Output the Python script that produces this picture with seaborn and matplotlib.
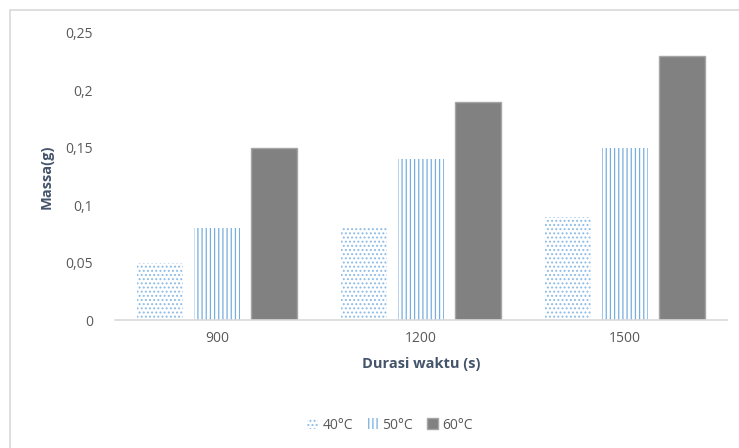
import matplotlib
matplotlib.use("Agg")
import matplotlib.pyplot as plt
import seaborn as sns
import pandas as pd
from matplotlib.patches import Patch, Rectangle

# data
durasi = ["900", "1200", "1500"]
suhu = ["40°C", "50°C", "60°C"]
massa_40 = [0.05, 0.08, 0.09]
massa_50 = [0.08, 0.14, 0.15]
massa_60 = [0.15, 0.19, 0.23]

df = pd.DataFrame({
    "durasi": durasi * 3,
    "suhu": [suhu[0]] * 3 + [suhu[1]] * 3 + [suhu[2]] * 3,
    "massa": massa_40 + massa_50 + massa_60,
})

sns.set_style("white")
plt.rcParams["font.family"] = ["Open Sans", "DejaVu Sans"]
plt.rcParams["hatch.linewidth"] = 0.9

fig = plt.figure(figsize=(7.39, 4.48), dpi=100)
ax = fig.add_axes([115 / 739, 1 - 320 / 448, 612 / 739, 287 / 448])

styles = {
    "40°C": dict(facecolor="white", edgecolor="#8dbbe6", hatch="...."),
    "50°C": dict(facecolor="white", edgecolor="#76aee0", hatch="||||"),
    "60°C": dict(facecolor="#818181", edgecolor="#a6a6a6", hatch=None),
}

sns.barplot(data=df, x="durasi", y="massa", hue="suhu", order=durasi,
            hue_order=suhu, width=0.84, gap=0.2, ax=ax, legend=False,
            palette=["white", "white", "#818181"])

# bars come out hue by hue
for i, bar in enumerate(ax.patches[:9]):
    st = styles[suhu[i // 3]]
    bar.set_facecolor(st["facecolor"])
    bar.set_edgecolor(st["edgecolor"])
    if st["hatch"]:
        bar.set_hatch(st["hatch"])
        bar.set_linewidth(0)
    else:
        bar.set_linewidth(1)

ax.set_ylim(0, 0.25)
ax.set_xlim(-0.5, 2.5)
ax.set_yticks([0, 0.05, 0.1, 0.15, 0.2, 0.25])
ax.set_yticklabels(["0", "0,05", "0,1", "0,15", "0,2", "0,25"])
ax.tick_params(axis="both", colors="#595959", labelsize=10, length=0)
ax.tick_params(axis="y", pad=16)
ax.tick_params(axis="x", pad=8)

for s in ["top", "right", "left"]:
    ax.spines[s].set_visible(False)
ax.spines["bottom"].set_color("#d9d9d9")
ax.spines["bottom"].set_linewidth(1.2)

ax.set_xlabel("Durasi waktu (s)", fontsize=10.5, fontweight="bold",
              color="#44546a", labelpad=8)
ax.set_ylabel("Massa(g)", fontsize=10.5, fontweight="bold",
              color="#44546a", labelpad=8)

handles = [Patch(**styles[s], linewidth=0 if styles[s]["hatch"] else 1, label=s)
           for s in suhu]
fig.legend(handles=handles, loc="center", bbox_to_anchor=(390 / 739, 1 - 425 / 448),
           ncol=3, frameon=False, fontsize=10, handlelength=0.8, handleheight=0.8,
           handletextpad=0.3, columnspacing=1.0, labelcolor="#595959")

# chart border (only top and left visible in the reference)
fig.add_artist(Rectangle((10 / 739, -0.1), 1.2, 1 - 10 / 448 + 0.1,
                         transform=fig.transFigure, fill=False,
                         edgecolor="#d9d9d9", linewidth=1.2))

fig.savefig("out.png", dpi=100)
